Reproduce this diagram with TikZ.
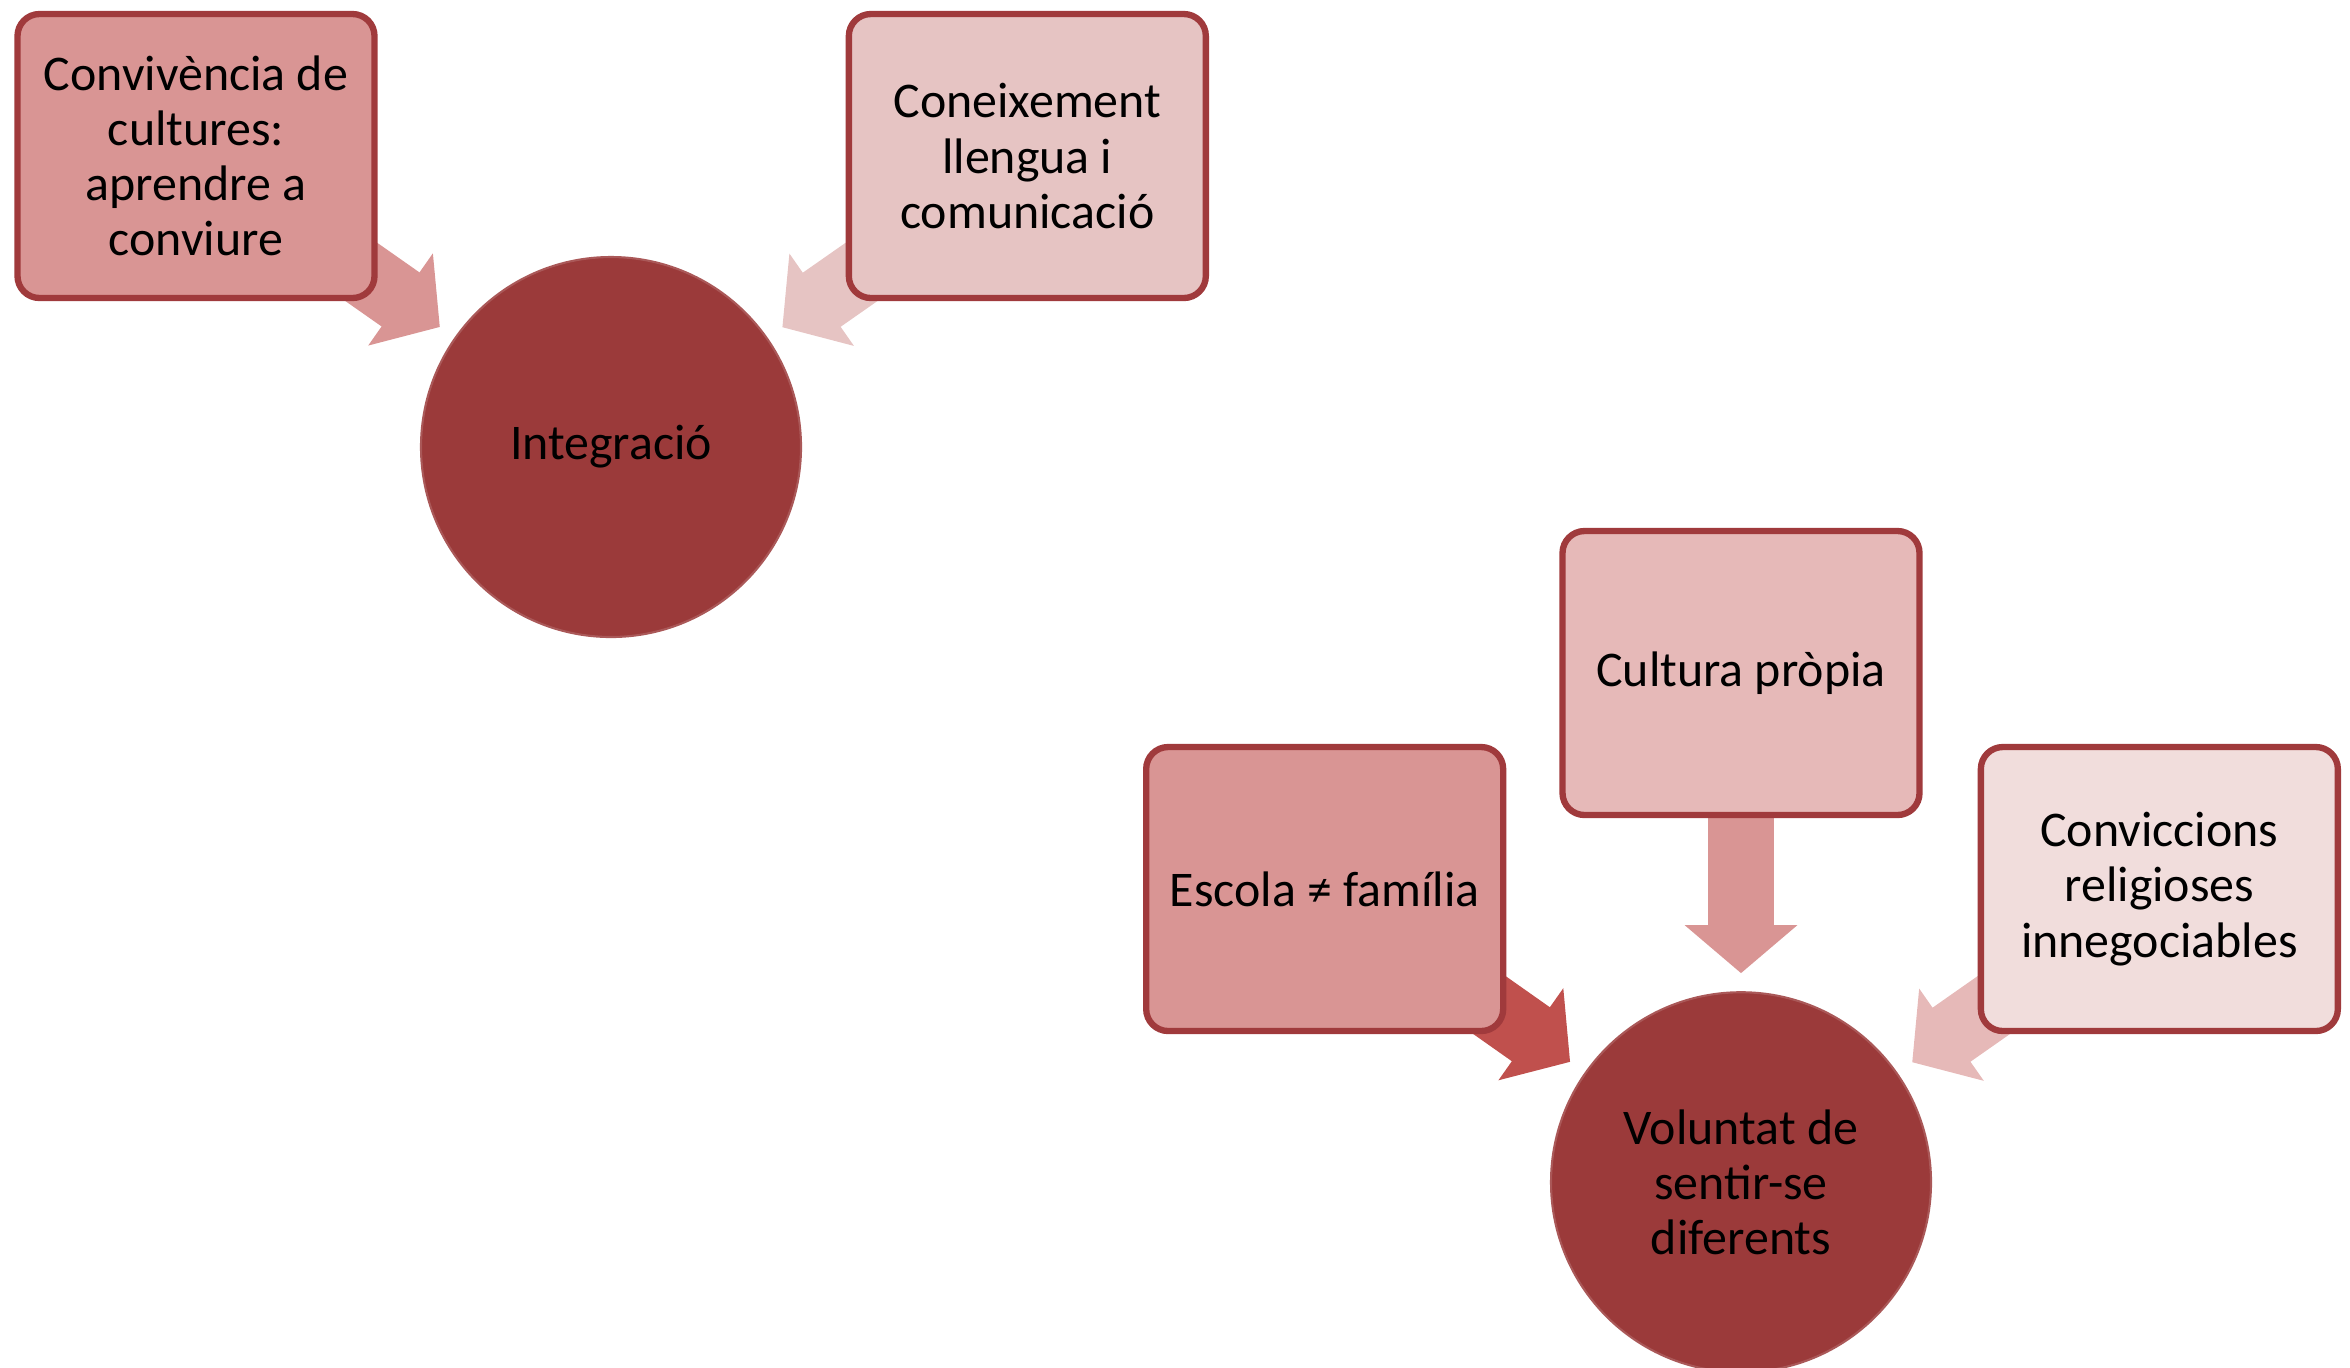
\documentclass[tikz,border=0pt]{standalone}
\usepackage{fontspec}
\setmainfont{Carlito}
\usepackage{tikz}
\usetikzlibrary{arrows.meta,positioning,backgrounds}
\definecolor{vora}{HTML}{A03A3C}
\definecolor{nuclicol}{HTML}{9B3A3A}
\definecolor{rosaA}{HTML}{D99594}
\definecolor{rosaB}{HTML}{E6C4C3}
\definecolor{rosaC}{HTML}{E6B9B8}
\definecolor{rosaE}{HTML}{F1DDDC}
\definecolor{vermell}{HTML}{C0504D}
\tikzset{
    %Define style for boxes
    caixa/.style={
           rectangle,
           rounded corners=0.22cm,
           draw=vora, line width=1.8pt,
           minimum width=3.57cm,
           minimum height=2.84cm,
           inner sep=0pt,
           font=\fontsize{14.2}{15.7}\selectfont,
           align=center},
    nucli/.style={
           circle,
           fill=nuclicol,
           draw=nuclicol!85!white, line width=0.6pt,
           minimum size=3.8cm,
           inner sep=0pt,
           font=\fontsize{14.2}{15.7}\selectfont,
           align=center},
    % Define arrow style
    fletxa/.style={
           line width=0.66cm,
           -{Triangle[width=1.1cm,length=0.48cm]},
           shorten >=0.18cm}
}
\begin{document}
\begin{tikzpicture}
\useasboundingbox (0,0) rectangle (23.5,-13.67);
\node[caixa, fill=rosaA] (conv) at (1.96,-1.56) {Convivència de\\cultures:\\aprendre a\\conviure};
\node[caixa, fill=rosaB, right=4.68cm of conv] (conei) {Coneixement\\llengua i\\comunicació};
\node[nucli] (intg) at (6.11,-4.47) {Integració};
\node[caixa, fill=rosaC] (cult) at (17.41,-6.73) {Cultura pròpia};
\node[caixa, fill=rosaA, left=0.53cm of cult, yshift=-2.16cm] (esc) {Escola ≠ família};
\node[caixa, fill=rosaE, right=0.55cm of cult, yshift=-2.16cm] (convic) {Conviccions\\religioses\\innegociables};
\node[nucli, below=1.73cm of cult] (vol) {Voluntat de\\sentir-se\\diferents};
\begin{scope}[on background layer]
\draw[fletxa, draw=rosaA] (conv.center) -- (intg);
\draw[fletxa, draw=rosaB] (conei.center) -- (intg);
\draw[fletxa, draw=rosaA] (cult.center) -- (vol);
\draw[fletxa, draw=vermell] (esc.center) -- (vol);
\draw[fletxa, draw=rosaC] (convic.center) -- (vol);
\end{scope}
\end{tikzpicture}
\end{document}
